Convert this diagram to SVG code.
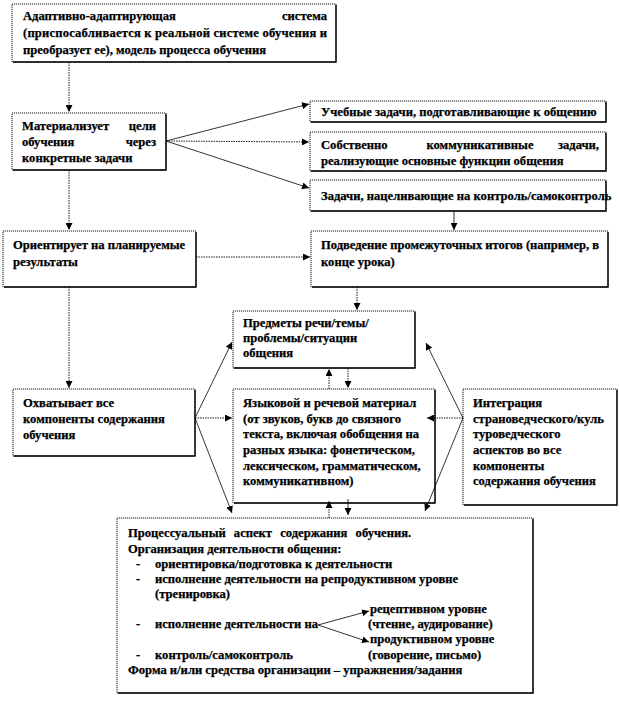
<svg xmlns="http://www.w3.org/2000/svg" width="620" height="702" viewBox="0 0 620 702" font-family="'Liberation Serif', serif">
<defs>
<style>
.bx{fill:#fff;stroke:#000;stroke-width:0.9;stroke-dasharray:1.2 0.8}
.sh{fill:none;stroke:#000;stroke-width:1.4}
.t{font-family:'Liberation Serif','Times New Roman',serif;font-weight:bold;font-size:12.6px;fill:#000;stroke:#000;stroke-width:0.25}
.e{text-anchor:end}
.sl{fill:none;stroke:#000;stroke-width:0.8}
.dl{fill:none;stroke:#000;stroke-width:0.9;stroke-dasharray:1.5 1}
</style>
<marker id="ah" viewBox="0 0 10 10" refX="10" refY="5" markerWidth="7" markerHeight="7" markerUnits="userSpaceOnUse" orient="auto">
<path d="M0,0 L10,5 L0,10 Z" fill="#000"/>
</marker>
</defs>
<rect width="620" height="702" fill="#fff"/>

<g id="n1">
<rect class="bx" x="12" y="4" width="324" height="58"/>
<path class="sh" d="M336,5 V62 H13"/>
<text class="t" x="23" y="20">Адаптивно-адаптирующая</text>
<text class="t e" x="327" y="20">система</text>
<text class="t" x="23" y="37" textLength="304" lengthAdjust="spacing">(приспосабливается к реальной системе обучения и</text>
<text class="t" x="23" y="54">преобразует ее), модель процесса обучения</text>
</g>

<g id="n2">
<rect class="bx" x="12" y="113" width="154" height="57"/>
<path class="sh" d="M166,114 V170 H13"/>
<text class="t" x="22" y="130">Материализует</text>
<text class="t e" x="156" y="130">цели</text>
<text class="t" x="22" y="146">обучения</text>
<text class="t e" x="156" y="146">через</text>
<text class="t" x="22" y="162">конкретные задачи</text>
</g>

<g id="n3">
<rect class="bx" x="310" y="101" width="296" height="21"/>
<path class="sh" d="M606,102 V122 H311"/>
<text class="t" x="321" y="116">Учебные задачи, подготавливающие к общению</text>
</g>

<g id="n4">
<rect class="bx" x="310" y="132" width="296" height="39"/>
<path class="sh" d="M606,133 V171 H311"/>
<text class="t" x="321" y="149">Собственно</text>
<text class="t" x="480" y="149" text-anchor="middle">коммуникативные</text>
<text class="t e" x="599" y="149">задачи,</text>
<text class="t" x="321" y="165">реализующие основные функции общения</text>
</g>

<g id="n5">
<rect class="bx" x="310" y="180" width="296" height="31"/>
<path class="sh" d="M606,181 V211 H311"/>
<text class="t" x="321" y="200">Задачи, нацеливающие на контроль/самоконтроль</text>
</g>

<g id="n6">
<rect class="bx" x="3" y="231" width="193" height="56"/>
<path class="sh" d="M196,232 V287 H4"/>
<text class="t" x="13" y="249">Ориентирует на планируемые</text>
<text class="t" x="13" y="266">результаты</text>
</g>

<g id="n7">
<rect class="bx" x="311" y="231" width="297" height="56"/>
<path class="sh" d="M608,232 V287 H312"/>
<text class="t" x="321" y="249" textLength="278" lengthAdjust="spacing">Подведение промежуточных итогов (например, в</text>
<text class="t" x="321" y="266">конце урока)</text>
</g>

<g id="n8">
<rect class="bx" x="233" y="311" width="182" height="57"/>
<path class="sh" d="M415,312 V368 H234"/>
<text class="t" x="243" y="327">Предметы речи/темы/</text>
<text class="t" x="243" y="342">проблемы/ситуации</text>
<text class="t" x="243" y="357">общения</text>
</g>

<g id="n9">
<rect class="bx" x="13" y="389" width="182" height="67"/>
<path class="sh" d="M195,390 V456 H14"/>
<text class="t" x="23" y="407">Охватывает все</text>
<text class="t" x="23" y="423">компоненты содержания</text>
<text class="t" x="23" y="439">обучения</text>
</g>

<g id="n10">
<rect class="bx" x="233" y="389" width="202" height="114"/>
<path class="sh" d="M435,390 V503 H234"/>
<text class="t" x="243" y="407">Языковой и речевой материал</text>
<text class="t" x="243" y="423">(от звуков, букв до связного</text>
<text class="t" x="243" y="438">текста, включая обобщения на</text>
<text class="t" x="243" y="454">разных языка: фонетическом,</text>
<text class="t" x="243" y="470">лексическом, грамматическом,</text>
<text class="t" x="243" y="485">коммуникативном)</text>
</g>

<g id="n11">
<rect class="bx" x="463" y="389" width="154" height="116"/>
<path class="sh" d="M617,390 V505 H464"/>
<text class="t" x="473" y="407">Интеграция</text>
<text class="t" x="473" y="423">страноведческого/куль</text>
<text class="t" x="473" y="438">туроведческого</text>
<text class="t" x="473" y="454">аспектов во все</text>
<text class="t" x="473" y="470">компоненты</text>
<text class="t" x="473" y="485">содержания обучения</text>
</g>

<g id="n12">
<rect class="bx" x="117" y="518" width="416" height="175"/>
<path class="sh" d="M533,519 V693 H118"/>
<text class="t" x="128" y="537" word-spacing="5">Процессуальный аспект содержания обучения.</text>
<text class="t" x="128" y="553">Организация деятельности общения:</text>
<text class="t" x="136" y="568">-</text>
<text class="t" x="155" y="568">ориентировка/подготовка к деятельности</text>
<text class="t" x="136" y="583">-</text>
<text class="t" x="155" y="583">исполнение деятельности на репродуктивном уровне</text>
<text class="t" x="155" y="598">(тренировка)</text>
<text class="t" x="370" y="613">рецептивном уровне</text>
<text class="t" x="136" y="628">-</text>
<text class="t" x="155" y="628">исполнение деятельности на</text>
<text class="t" x="368" y="628">(чтение, аудирование)</text>
<text class="t" x="370" y="643">продуктивном уровне</text>
<text class="t" x="136" y="659">-</text>
<text class="t" x="155" y="659">контроль/самоконтроль</text>
<text class="t" x="368" y="659">(говорение, письмо)</text>
<text class="t" x="128" y="674">Форма и/или средства организации – упражнения/задания</text>
</g>

<g id="connectors">
<line class="dl" x1="69" y1="62" x2="69" y2="112" marker-end="url(#ah)"/>
<line class="dl" x1="69" y1="170" x2="69" y2="230" marker-end="url(#ah)"/>
<line class="sl" x1="166" y1="141" x2="309" y2="104" marker-end="url(#ah)"/>
<line class="dl" x1="166" y1="141" x2="309" y2="142" marker-end="url(#ah)"/>
<line class="sl" x1="166" y1="141" x2="309" y2="188" marker-end="url(#ah)"/>
<line class="sl" x1="454" y1="211" x2="454" y2="230" marker-end="url(#ah)"/>
<line class="dl" x1="196" y1="257" x2="310" y2="257" marker-end="url(#ah)"/>
<line class="dl" x1="69" y1="287" x2="69" y2="388" marker-end="url(#ah)"/>
<line class="dl" x1="357" y1="287" x2="357" y2="310" marker-end="url(#ah)"/>
<line class="sl" x1="195" y1="418" x2="232" y2="342" marker-end="url(#ah)"/>
<line class="dl" x1="195" y1="418" x2="232" y2="418" marker-end="url(#ah)"/>
<line class="sl" x1="195" y1="418" x2="232" y2="513" marker-end="url(#ah)"/>
<line class="sl" x1="463" y1="418" x2="426" y2="343" marker-end="url(#ah)"/>
<line class="dl" x1="463" y1="418" x2="427" y2="418" marker-end="url(#ah)"/>
<line class="sl" x1="463" y1="418" x2="425" y2="511" marker-end="url(#ah)"/>
<line class="dl" x1="329" y1="389" x2="329" y2="369" marker-end="url(#ah)"/>
<line class="dl" x1="348" y1="368" x2="348" y2="388" marker-end="url(#ah)"/>
<line class="dl" x1="329" y1="518" x2="329" y2="501" marker-end="url(#ah)"/>
<line class="sl" x1="348" y1="499" x2="348" y2="515" marker-end="url(#ah)"/>
<line class="sl" x1="318" y1="625" x2="369" y2="611" marker-end="url(#ah)"/>
<line class="sl" x1="318" y1="625" x2="369" y2="642" marker-end="url(#ah)"/>
</g>
</svg>
